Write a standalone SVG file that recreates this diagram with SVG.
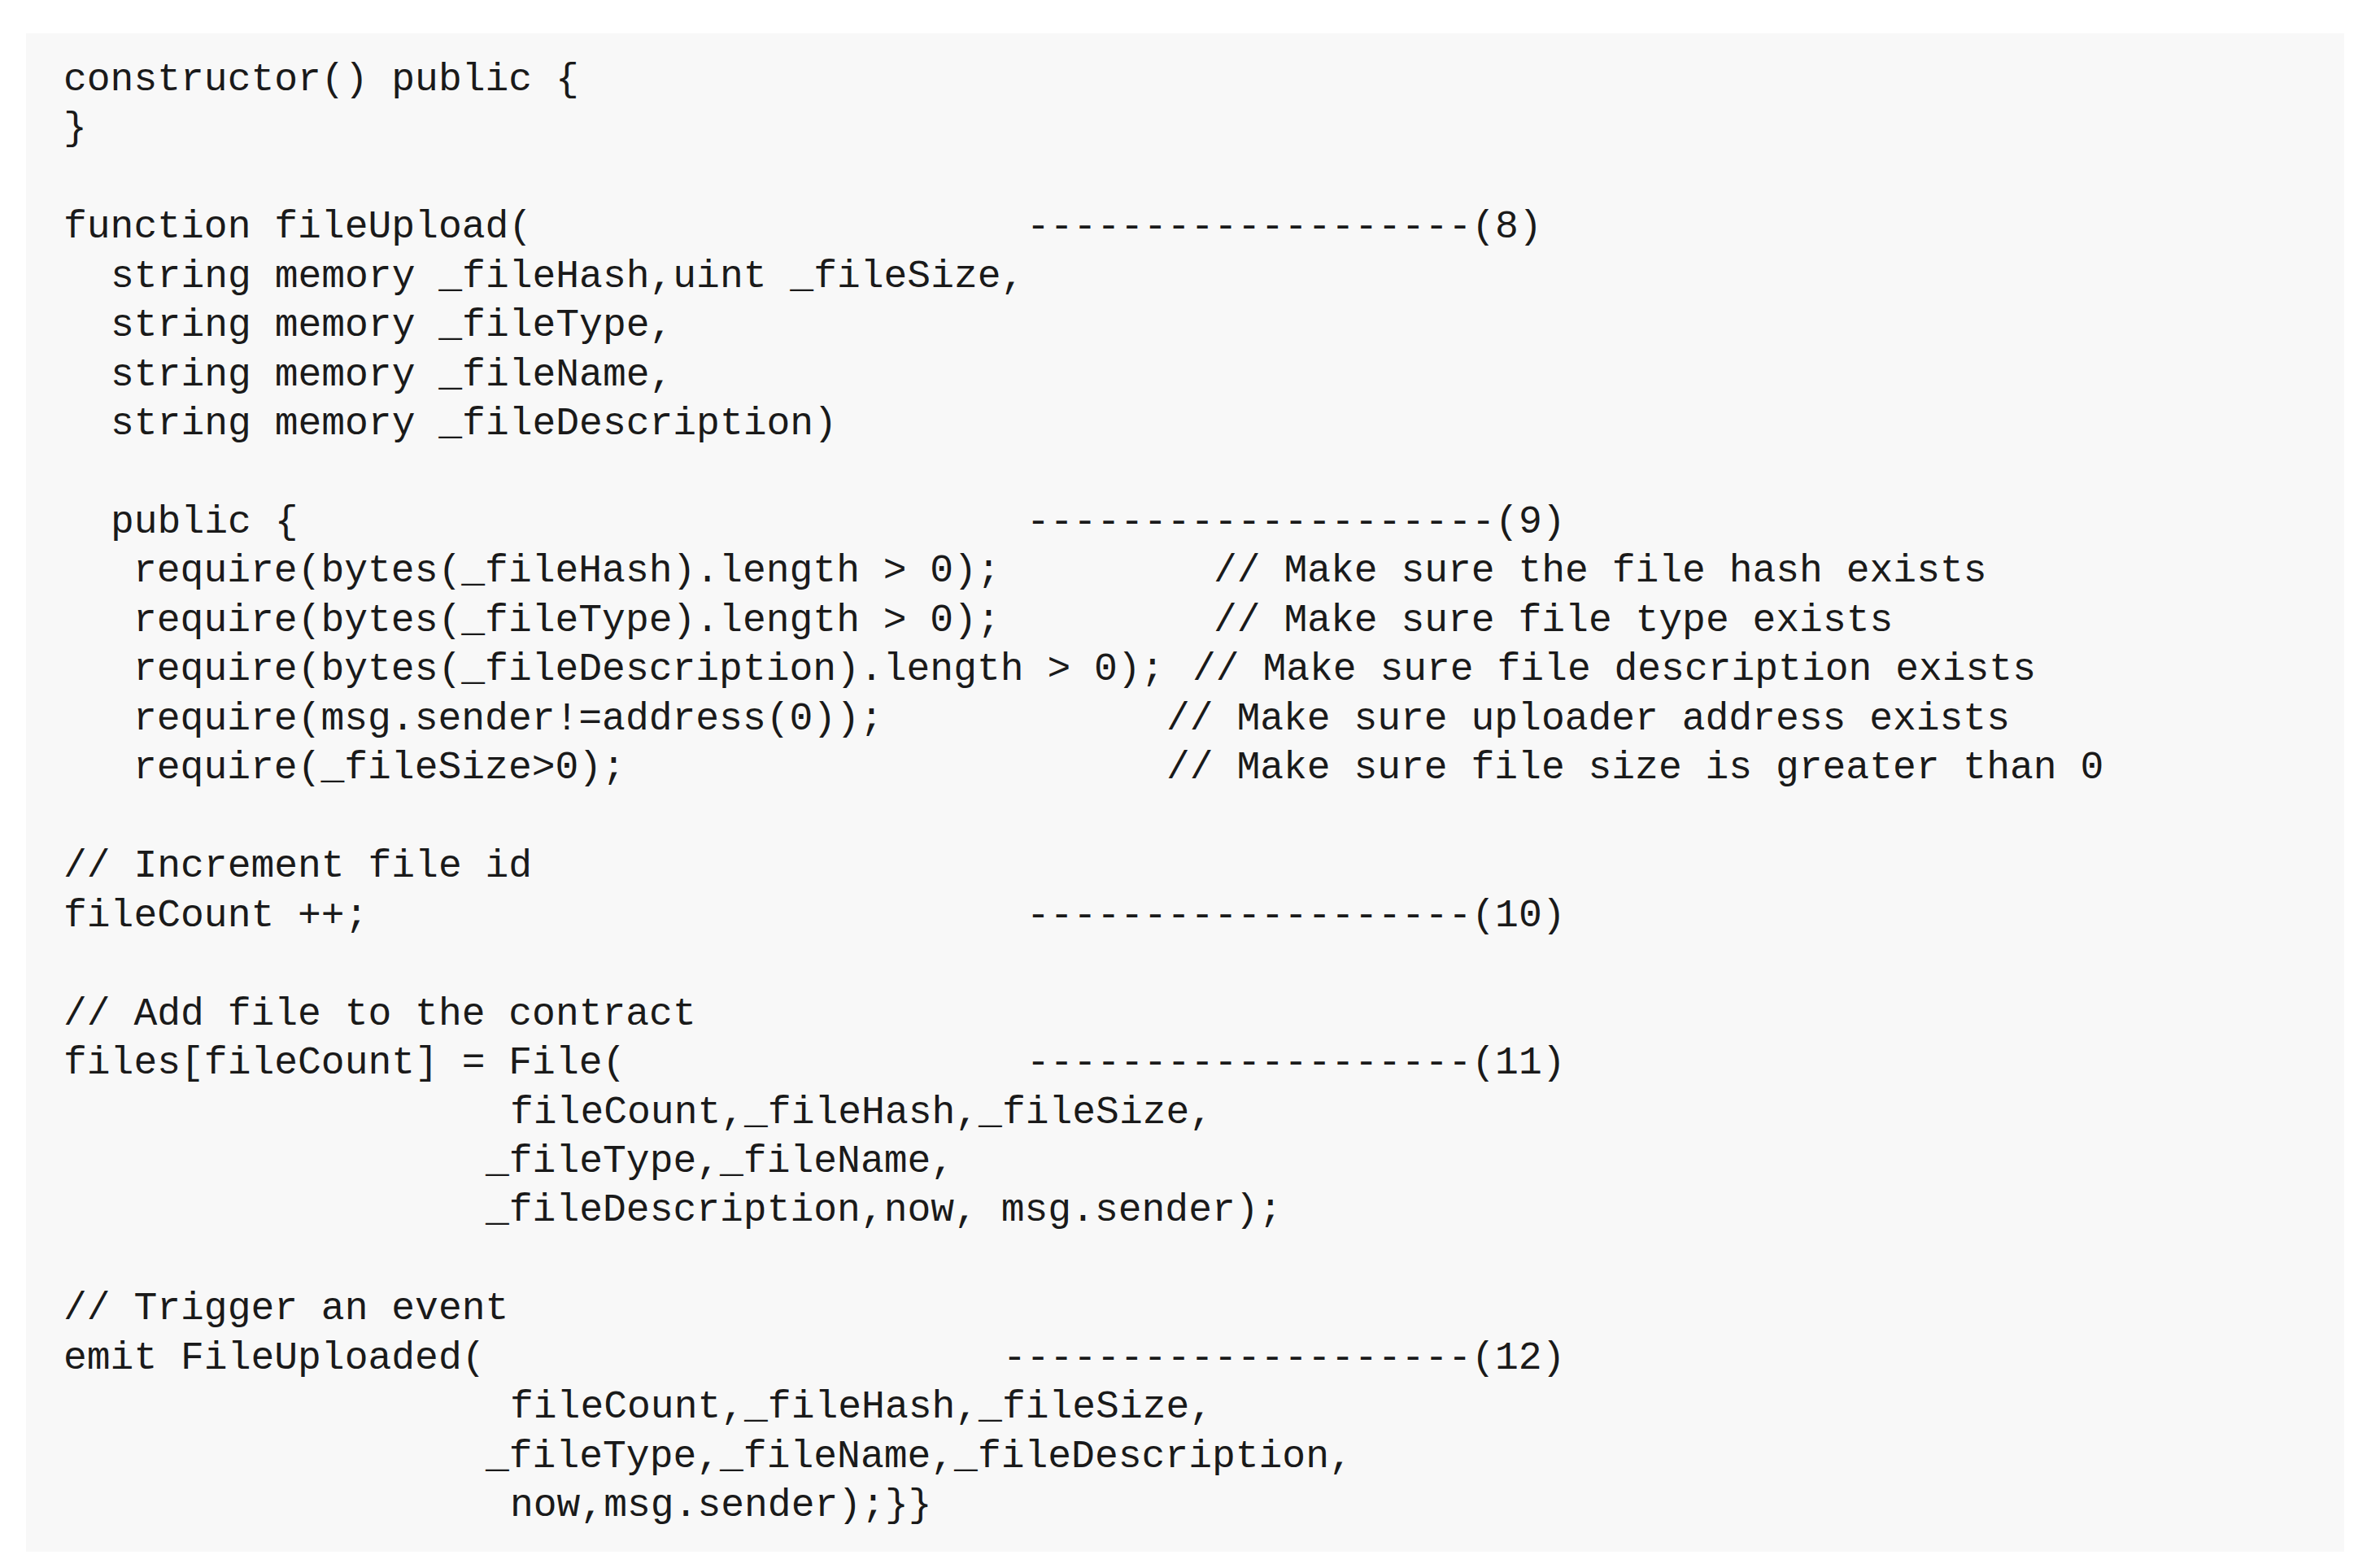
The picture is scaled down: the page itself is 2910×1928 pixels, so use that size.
<svg xmlns="http://www.w3.org/2000/svg" width="2910" height="1928" viewBox="0 0 2910 1928">
<style>
text{font-family:"Liberation Mono","DejaVu Sans Mono",monospace;font-size:48px;fill:#1a1a1a;white-space:pre}
</style>
<rect width="2910" height="1928" fill="#ffffff"/>
<g id="code-block" transform="translate(0,-6)">
<rect x="32" y="47" width="2850" height="1867" fill="#f8f8f8"/>
<text x="78" y="117">constructor() public {</text>
<text x="78" y="177">}</text>
<text x="78" y="298">function fileUpload(</text>
<text x="1262" y="298">-------------------(8)</text>
<text x="136" y="359">string memory _fileHash,uint _fileSize,</text>
<text x="136" y="419">string memory _fileType,</text>
<text x="136" y="480">string memory _fileName,</text>
<text x="136" y="540">string memory _fileDescription)</text>
<text x="136" y="661">public {</text>
<text x="1262" y="661">--------------------(9)</text>
<text x="164" y="721">require(bytes(_fileHash).length &gt; 0);</text>
<text x="1492" y="721">// Make sure the file hash exists</text>
<text x="164" y="782">require(bytes(_fileType).length &gt; 0);</text>
<text x="1492" y="782">// Make sure file type exists</text>
<text x="164" y="842">require(bytes(_fileDescription).length &gt; 0);</text>
<text x="1466" y="842">// Make sure file description exists</text>
<text x="164" y="903">require(msg.sender!=address(0));</text>
<text x="1434" y="903">// Make sure uploader address exists</text>
<text x="164" y="963">require(_fileSize&gt;0);</text>
<text x="1434" y="963">// Make sure file size is greater than 0</text>
<text x="78" y="1084">// Increment file id</text>
<text x="78" y="1145">fileCount ++;</text>
<text x="1262" y="1145">-------------------(10)</text>
<text x="78" y="1266">// Add file to the contract</text>
<text x="78" y="1326">files[fileCount] = File(</text>
<text x="1262" y="1326">-------------------(11)</text>
<text x="627" y="1387">fileCount,_fileHash,_fileSize,</text>
<text x="597" y="1447">_fileType,_fileName,</text>
<text x="597" y="1507">_fileDescription,now, msg.sender);</text>
<text x="78" y="1628">// Trigger an event</text>
<text x="78" y="1689">emit FileUploaded(</text>
<text x="1233" y="1689">--------------------(12)</text>
<text x="627" y="1749">fileCount,_fileHash,_fileSize,</text>
<text x="597" y="1810">_fileType,_fileName,_fileDescription,</text>
<text x="627" y="1870">now,msg.sender);}}</text>
</g>
</svg>
